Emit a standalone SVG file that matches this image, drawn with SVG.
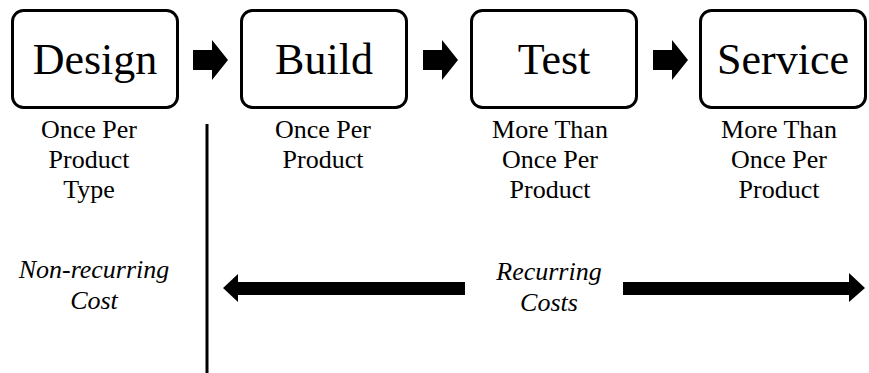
<svg xmlns="http://www.w3.org/2000/svg" width="869" height="373" viewBox="0 0 869 373">
  <style>
    .box { fill: #ffffff; stroke: #000000; stroke-width: 3; }
    .solid { fill: #000000; stroke: none; }
    text { font-family: "Liberation Serif", "Times New Roman", serif; fill: #000000; text-anchor: middle; }
    .title { font-size: 44px; }
    .sub { font-size: 26px; }
    .cost { font-size: 26px; font-style: italic; }
  </style>
  <rect width="869" height="373" fill="#ffffff"/>

  <!-- process stages: rounded boxes with a large title and a note below -->
  <g id="design">
    <rect class="box" x="12.5" y="10.5" width="165" height="97" rx="11"/>
    <text class="title" x="95" y="74">Design</text>
    <text class="sub" x="89" y="138">Once Per</text>
    <text class="sub" x="89" y="168">Product</text>
    <text class="sub" x="89" y="198">Type</text>
  </g>
  <g id="build">
    <rect class="box" x="241.5" y="10.5" width="165" height="97" rx="11"/>
    <text class="title" x="324" y="74">Build</text>
    <text class="sub" x="323" y="138">Once Per</text>
    <text class="sub" x="323" y="168">Product</text>
  </g>
  <g id="test">
    <rect class="box" x="471.5" y="10.5" width="165" height="97" rx="11"/>
    <text class="title" x="554" y="74">Test</text>
    <text class="sub" x="550" y="138">More Than</text>
    <text class="sub" x="550" y="168">Once Per</text>
    <text class="sub" x="550" y="198">Product</text>
  </g>
  <g id="service">
    <rect class="box" x="700.5" y="10.5" width="165" height="97" rx="11"/>
    <text class="title" x="783" y="74">Service</text>
    <text class="sub" x="779" y="138">More Than</text>
    <text class="sub" x="779" y="168">Once Per</text>
    <text class="sub" x="779" y="198">Product</text>
  </g>

  <!-- cost labels -->
  <g id="nonrecurring">
    <text class="cost" x="94" y="278">Non-recurring</text>
    <text class="cost" x="94" y="309">Cost</text>
  </g>
  <g id="recurring">
    <text class="cost" x="549" y="280">Recurring</text>
    <text class="cost" x="549" y="311">Costs</text>
  </g>

  <!-- connectors -->
  <g id="connectors">
    <polygon class="solid" points="193,50 212,50 212,40 228,60 212,80 212,70 193,70"/>
    <polygon class="solid" points="423,50 442,50 442,40 458,60 442,80 442,70 423,70"/>
    <polygon class="solid" points="653,50 672,50 672,40 688,60 672,80 672,70 653,70"/>
    <line x1="207" y1="124" x2="207" y2="373" stroke="#000000" stroke-width="3"/>
    <polygon class="solid" points="465,282 238,282 238,274 223,288 238,302 238,295 465,295"/>
    <polygon class="solid" points="623,282 849,282 849,273 865,288 849,302 849,295 623,295"/>
  </g>
</svg>
